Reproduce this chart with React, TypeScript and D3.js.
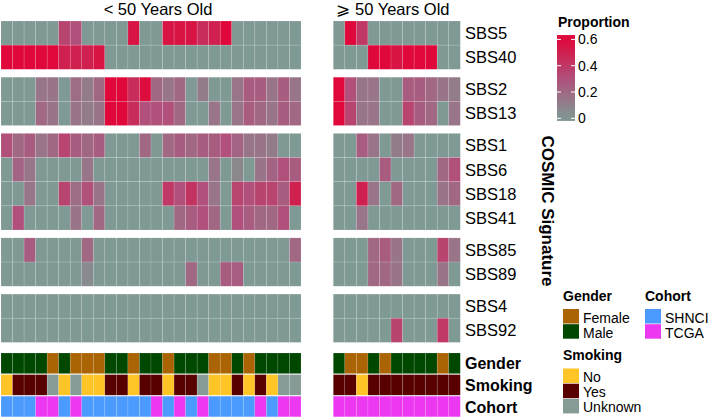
import React from 'react';
import * as d3 from 'd3';

const signatures = ['SBS5', 'SBS40', 'SBS2', 'SBS13', 'SBS1', 'SBS6', 'SBS18', 'SBS41', 'SBS85', 'SBS89', 'SBS4', 'SBS92'];
const signatureBlock = [0, 0, 1, 1, 2, 2, 2, 2, 3, 3, 4, 4];

// proportion per signature, patients < 50 years old (26 columns)
const youngValues = [
  [0, 0, 0, 0, 0, 0.35, 0.3, 0, 0, 0, 0, 0.55, 0, 0, 0.55, 0.55, 0.55, 0.45, 0.5, 0.6, 0, 0, 0, 0, 0, 0],
  [0.6, 0.6, 0.6, 0.6, 0.6, 0.5, 0.5, 0.5, 0.55, 0, 0, 0, 0, 0, 0, 0, 0, 0, 0, 0, 0, 0, 0, 0, 0, 0],
  [0, 0, 0, 0.15, 0.15, 0, 0.18, 0.12, 0.2, 0.6, 0.6, 0.45, 0.58, 0.2, 0.15, 0.2, 0, 0.12, 0, 0, 0.15, 0.25, 0.25, 0.15, 0.25, 0.15],
  [0, 0, 0, 0.2, 0.15, 0, 0.15, 0.12, 0.15, 0.62, 0.62, 0.45, 0.3, 0.3, 0.3, 0.2, 0, 0, 0.15, 0, 0.15, 0.25, 0.2, 0.15, 0.25, 0.2],
  [0.3, 0.2, 0.25, 0.15, 0.2, 0.35, 0.25, 0.2, 0.25, 0, 0, 0, 0.2, 0, 0.2, 0.25, 0.2, 0.25, 0.25, 0.3, 0.22, 0.15, 0.15, 0.12, 0, 0],
  [0, 0.22, 0.15, 0, 0, 0, 0, 0.15, 0, 0, 0, 0, 0, 0, 0, 0, 0, 0, 0.15, 0, 0.08, 0, 0.15, 0.22, 0.3, 0.25],
  [0, 0, 0.15, 0, 0, 0.35, 0.18, 0.3, 0.15, 0, 0, 0, 0, 0, 0.4, 0.3, 0.42, 0.3, 0.15, 0, 0.35, 0.3, 0.35, 0.35, 0.25, 0.5],
  [0, 0.3, 0, 0, 0, 0, 0.15, 0, 0.2, 0, 0, 0, 0, 0, 0, 0.2, 0.25, 0.3, 0.2, 0, 0.3, 0.25, 0.2, 0.2, 0.3, 0],
  [0, 0, 0.25, 0, 0, 0, 0, 0.2, 0, 0, 0, 0, 0, 0, 0, 0, 0, 0, 0, 0, 0, 0, 0, 0, 0, 0.2],
  [0, 0, 0, 0, 0, 0, 0, 0.06, 0, 0, 0, 0, 0, 0, 0, 0, 0.2, 0, 0, 0.25, 0.25, 0, 0, 0, 0, 0],
  [0, 0, 0, 0, 0, 0, 0, 0, 0, 0, 0, 0, 0, 0, 0, 0, 0, 0, 0, 0, 0, 0, 0, 0, 0, 0],
  [0, 0, 0, 0, 0, 0, 0, 0, 0, 0, 0, 0, 0, 0, 0, 0, 0, 0, 0, 0, 0, 0, 0, 0, 0, 0],
];

// proportion per signature, patients >= 50 years old (11 columns)
const oldValues = [
  [0, 0.6, 0.4, 0, 0, 0, 0, 0, 0, 0, 0],
  [0, 0, 0, 0.6, 0.6, 0.55, 0.6, 0.6, 0.6, 0, 0],
  [0.6, 0.3, 0.15, 0.15, 0, 0, 0.25, 0.25, 0.2, 0.15, 0.12],
  [0.6, 0.35, 0.15, 0.15, 0, 0, 0.35, 0.25, 0.2, 0, 0.15],
  [0, 0, 0.25, 0.15, 0, 0.12, 0.15, 0, 0, 0, 0],
  [0, 0, 0, 0, 0.25, 0, 0, 0, 0, 0.2, 0.3],
  [0, 0, 0.5, 0.15, 0, 0.2, 0, 0, 0, 0.15, 0.2],
  [0, 0, 0.15, 0, 0, 0, 0, 0, 0, 0, 0],
  [0, 0, 0, 0.2, 0.25, 0.15, 0, 0, 0, 0.35, 0.15],
  [0, 0, 0, 0.2, 0.2, 0.15, 0, 0, 0, 0.15, 0],
  [0, 0, 0, 0, 0, 0, 0, 0, 0, 0, 0],
  [0, 0, 0, 0, 0, 0.35, 0, 0, 0, 0.4, 0],
];

const youngGender = ['Male', 'Male', 'Male', 'Male', 'Female', 'Male', 'Female', 'Female', 'Female', 'Male', 'Male', 'Female', 'Male', 'Male', 'Female', 'Male', 'Male', 'Male', 'Female', 'Female', 'Male', 'Female', 'Male', 'Male', 'Male', 'Male'];
const youngSmoking = ['No', 'Yes', 'Yes', 'Yes', 'Unknown', 'No', 'Unknown', 'No', 'No', 'Yes', 'Yes', 'No', 'Yes', 'Yes', 'No', 'Yes', 'Yes', 'Unknown', 'No', 'No', 'Yes', 'No', 'Yes', 'No', 'Unknown', 'Unknown'];
const youngCohort = ['SHNCI', 'SHNCI', 'SHNCI', 'TCGA', 'TCGA', 'SHNCI', 'TCGA', 'SHNCI', 'SHNCI', 'SHNCI', 'SHNCI', 'SHNCI', 'SHNCI', 'TCGA', 'SHNCI', 'TCGA', 'SHNCI', 'TCGA', 'SHNCI', 'SHNCI', 'SHNCI', 'SHNCI', 'TCGA', 'SHNCI', 'TCGA', 'TCGA'];

const oldGender = ['Male', 'Female', 'Female', 'Male', 'Female', 'Male', 'Male', 'Male', 'Male', 'Female', 'Male'];
const oldSmoking = ['Yes', 'Yes', 'No', 'Yes', 'Yes', 'Yes', 'Yes', 'Yes', 'Yes', 'Yes', 'Yes'];
const oldCohort = ['TCGA', 'TCGA', 'TCGA', 'TCGA', 'TCGA', 'TCGA', 'TCGA', 'TCGA', 'TCGA', 'TCGA', 'TCGA'];

const annotationNames = ['Gender', 'Smoking', 'Cohort'];
const genderLevels = ['Female', 'Male'];
const smokingLevels = ['No', 'Yes', 'Unknown'];
const cohortLevels = ['SHNCI', 'TCGA'];
const proportionTicks = [0, 0.2, 0.4, 0.6];

const FONT = '"Liberation Sans", Arial, Helvetica, sans-serif';

const genderColor = d3.scaleOrdinal<string, string>().domain(genderLevels).range(['#aa6404', '#004700']);
const smokingColor = d3.scaleOrdinal<string, string>().domain(smokingLevels).range(['#ffc425', '#580000', '#879b96']);
const cohortColor = d3.scaleOrdinal<string, string>().domain(cohortLevels).range(['#4b9bff', '#ec38f0']);
const annotationColors = [genderColor, smokingColor, cohortColor];

const fill = d3
  .scaleLinear<string>()
  .domain([0, 0.3, 0.6])
  .range(['#7f9994', '#b0507b', '#e0083a'])
  .clamp(true);

const top = 21;
const rowH = 24.15;
const blockGap = 7.9;
const rowY = (i: number) => top + i * rowH + signatureBlock[i] * blockGap;

const annTop = 353;
const annH = 20.6;
const annGap = 1;
const annY = (k: number) => annTop + k * (annH + annGap);

const panels = [
  { title: '< 50 Years Old', titleX: 158, x0: 1, x1: 301, values: youngValues, ann: [youngGender, youngSmoking, youngCohort] },
  { title: '\u2A7E 50 Years Old', titleX: 393, x0: 333.3, x1: 460.3, values: oldValues, ann: [oldGender, oldSmoking, oldCohort] },
];

const legendY = d3.scaleLinear().domain([0, 0.6]).range([118.3, 39.4]);

const Panel = ({ p }: { p: (typeof panels)[number] }) => {
  const n = p.values[0].length;
  const x = d3.scaleBand<number>().domain(d3.range(n)).range([p.x0, p.x1]);
  return (
    <g>
      <text x={p.titleX} y={14.5} textAnchor="middle" fontSize={16.5} fontFamily={FONT}>
        {p.title}
      </text>
      {p.values.map((row, i) =>
        row.map((v, j) => (
          <rect
            key={`${i}-${j}`}
            x={x(j)}
            y={rowY(i)}
            width={x.bandwidth()}
            height={rowH}
            fill={fill(v)}
            stroke="rgba(255,255,255,0.22)"
            strokeWidth={0.6}
          />
        ))
      )}
      {p.ann.map((vals, k) =>
        vals.map((v, j) => (
          <rect
            key={`a${k}-${j}`}
            x={x(j)}
            y={annY(k)}
            width={x.bandwidth()}
            height={annH}
            fill={annotationColors[k](v)}
            stroke="rgba(255,255,255,0.22)"
            strokeWidth={0.6}
          />
        ))
      )}
    </g>
  );
};

const Swatches = ({ title, levels, color, x, y }: { title: string; levels: string[]; color: (s: string) => string; x: number; y: number }) => (
  <g fontFamily={FONT}>
    <text x={x} y={y} fontSize={14} fontWeight="bold">
      {title}
    </text>
    {levels.map((l, i) => (
      <g key={l}>
        <rect x={x} y={y + 8.5 + i * 15.2} width={16} height={14.5} fill={color(l)} />
        <text x={x + 20} y={y + 22 + i * 15.2} fontSize={14}>
          {l}
        </text>
      </g>
    ))}
  </g>
);

export default function App() {
  const gradStops = d3.range(0, 1.001, 0.1).map((t) => ({ t, c: fill(-0.02 + t * 0.65) }));
  return (
    <svg width={708} height={417} style={{ position: 'absolute', left: 0, top: 0, background: '#fff' }}>
      <defs>
        <linearGradient id="prop" x1="0" y1="1" x2="0" y2="0">
          {gradStops.map((s) => (
            <stop key={s.t} offset={s.t} stopColor={s.c} />
          ))}
        </linearGradient>
      </defs>
      {panels.map((p) => (
        <Panel key={p.title} p={p} />
      ))}
      <g fontFamily={FONT} fontSize={16.5}>
        {signatures.map((s, i) => (
          <text key={s} x={465} y={rowY(i) + rowH / 2 + 6}>
            {s}
          </text>
        ))}
        {annotationNames.map((a, k) => (
          <text key={a} x={465} y={annY(k) + annH / 2 + 6} fontWeight="bold" fontSize={16}>
            {a}
          </text>
        ))}
      </g>
      <text
        transform={`translate(542,211) rotate(90)`}
        textAnchor="middle"
        fontFamily={FONT}
        fontWeight="bold"
        fontSize={17}
      >
        COSMIC Signature
      </text>

      {/* proportion colour bar */}
      <g fontFamily={FONT}>
        <text x={558} y={27} fontSize={14} fontWeight="bold">
          Proportion
        </text>
        <rect x={557} y={legendY(0.633)} width={18} height={legendY(-0.02) - legendY(0.633)} fill="url(#prop)" />
        {proportionTicks.map((t) => (
          <g key={t}>
            <line x1={557} x2={561} y1={legendY(t)} y2={legendY(t)} stroke="#fff" strokeWidth={1} />
            <line x1={571} x2={575} y1={legendY(t)} y2={legendY(t)} stroke="#fff" strokeWidth={1} />
            <text x={578} y={legendY(t) + 5} fontSize={14}>
              {t === 0 ? '0' : t.toFixed(1)}
            </text>
          </g>
        ))}
      </g>

      <Swatches title="Gender" levels={genderLevels} color={genderColor} x={563} y={300.5} />
      <Swatches title="Cohort" levels={cohortLevels} color={cohortColor} x={645} y={300.5} />
      <Swatches title="Smoking" levels={smokingLevels} color={smokingColor} x={563} y={360} />
    </svg>
  );
}
